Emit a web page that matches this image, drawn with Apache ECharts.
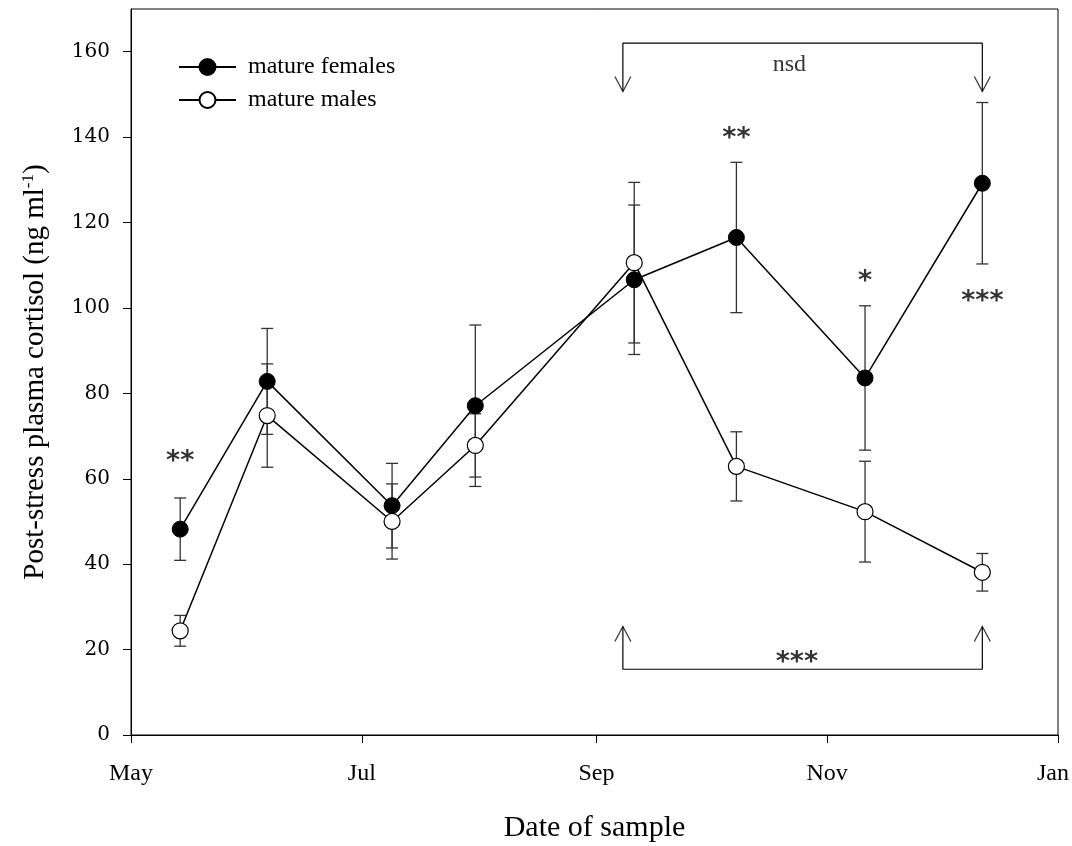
<!DOCTYPE html>
<html lang="en">
<head>
    <meta charset="UTF-8">
    <title>post-stress cortisol</title>
    <script type="text/javascript" src="https://cdn.jsdelivr.net/npm/echarts@6/dist/echarts.min.js"></script>
    <style>
        html, body { margin: 0; padding: 0; background: #fff; }
        #container { width: 1072px; height: 846px; }
    </style>
</head>
<body>
<div id="container"></div>
<script type="text/javascript">
    // sampling dates and means / SE
    var sampleDates = ['2007-05-14', '2007-06-06', '2007-07-09', '2007-07-31', '2007-09-11', '2007-10-08', '2007-11-11', '2007-12-12'];
    var femaleMean = [48.2, 82.8, 53.7, 77.1, 106.6, 116.5, 83.6, 129.2];
    var femaleSE = [7.3, 12.4, 9.9, 18.9, 17.5, 17.6, 16.9, 18.9];
    var maleMean = [24.4, 74.8, 50.0, 67.8, 110.6, 62.9, 52.3, 38.1];
    var maleSE = [3.6, 12.1, 8.8, 7.4, 18.8, 8.1, 11.8, 4.4];

    // axis ticks
    var xTickDates = ['2007-05-01', '2007-07-01', '2007-09-01', '2007-11-01', '2008-01-01'];
    var xTickLabels = ['May', 'Jul', 'Sep', 'Nov', 'Jan'];
    var yTicks = [0, 20, 40, 60, 80, 100, 120, 140, 160];

    // significance marks
    var starTexts = ['**', '**', '*', '***', '***'];
    var starDates = ['2007-05-14', '2007-10-08', '2007-11-11', '2007-12-12', '2007-10-24'];
    var starValues = [65.6, 141.2, 107.7, 103.0, 18.5];

    // brackets: [tip, bar] levels
    var bracketDates = ['2007-09-08', '2007-12-12'];
    var nsdLevels = [150.7, 162];
    var sigLevels = [25.4, 15.4];
    var nsdText = 'nsd';
    var nsdDate = '2007-10-22';
    var nsdValue = 157;

    function t(d) { return new Date(d + 'T00:00:00Z').getTime(); }

    var xTickTimes = xTickDates.map(t);

    function pairs(means) {
        return sampleDates.map(function (d, i) { return [t(d), means[i]]; });
    }
    function errData(means, se) {
        return sampleDates.map(function (d, i) { return [t(d), means[i] - se[i], means[i] + se[i]]; });
    }
    function bracket(levels) {
        var a = t(bracketDates[0]), b = t(bracketDates[1]);
        return [[a, levels[0]], [a, levels[1]], [b, levels[1]], [b, levels[0]]];
    }

    function renderErr(params, api) {
        var x = api.value(0);
        var lo = api.coord([x, api.value(1)]);
        var hi = api.coord([x, api.value(2)]);
        var w = 6;
        var st = { stroke: '#333', lineWidth: 1.3 };
        return {
            type: 'group',
            children: [
                { type: 'line', shape: { x1: lo[0], y1: lo[1], x2: hi[0], y2: hi[1] }, style: st },
                { type: 'line', shape: { x1: lo[0] - w, y1: lo[1], x2: lo[0] + w, y2: lo[1] }, style: st },
                { type: 'line', shape: { x1: hi[0] - w, y1: hi[1], x2: hi[0] + w, y2: hi[1] }, style: st }
            ]
        };
    }

    var serif = 'Liberation Serif';
    var arrowDown = 'path://M0,0 L8,15 L16,0';
    var arrowUp = 'path://M0,15 L8,0 L16,15';

    var dom = document.getElementById('container');
    var myChart = echarts.init(dom, null, { renderer: 'canvas' });

    var option = {
        backgroundColor: '#fff',
        animation: false,
        grid: {
            left: 131, right: 14, top: 9, bottom: 111,
            outerBoundsMode: 'none',
            show: true, borderColor: '#000', borderWidth: 1
        },
        legend: {
            data: ['mature females', 'mature males'],
            orient: 'vertical',
            left: 173,
            top: 50,
            itemWidth: 57,
            itemHeight: 20,
            itemGap: 9,
            textStyle: { fontFamily: serif, fontSize: 24, color: '#000', lineHeight: 24, padding: [0, 0, 0, 7] }
        },
        xAxis: {
            type: 'value',
            min: xTickTimes[0],
            max: xTickTimes[xTickTimes.length - 1],
            name: 'Date of sample',
            nameLocation: 'middle',
            nameGap: 78,
            nameTextStyle: { fontFamily: serif, fontSize: 30, color: '#000' },
            axisLine: { show: true, lineStyle: { color: '#000', width: 1 } },
            axisTick: { show: true, length: 8, customValues: xTickTimes, lineStyle: { color: '#000' } },
            axisLabel: {
                customValues: xTickTimes,
                margin: 27,
                fontFamily: serif, fontSize: 24, color: '#000',
                formatter: function (v) {
                    var i = xTickTimes.indexOf(v);
                    if (i < 0) return '';
                    // last label sits at the right edge, nudge it in
                    return i === xTickTimes.length - 1 ? '{edge|' + xTickLabels[i] + '}' : xTickLabels[i];
                },
                rich: { edge: { fontFamily: serif, fontSize: 24, color: '#000', padding: [0, 10, 0, 0] } }
            },
            splitLine: { show: false }
        },
        yAxis: {
            type: 'value',
            min: 0,
            max: 170,
            interval: 20,
            name: 'Post-stress plasma cortisol (ng ml{sup|-1})',
            nameLocation: 'middle',
            nameGap: 80,
            nameRotate: 90,
            nameTextStyle: {
                fontFamily: serif, fontSize: 29, color: '#000',
                rich: { sup: { fontFamily: serif, fontSize: 17, color: '#000', verticalAlign: 'top', padding: [0, 0, 14, 0] } }
            },
            axisLine: { show: true, lineStyle: { color: '#000', width: 1 } },
            axisTick: { show: true, length: 8, customValues: yTicks, lineStyle: { color: '#000' } },
            axisLabel: { customValues: yTicks, margin: 21, fontFamily: 'DejaVu Serif', fontSize: 20, color: '#000' },
            splitLine: { show: false }
        },
        series: [
            {
                name: 'femaleErr', type: 'custom', renderItem: renderErr,
                data: errData(femaleMean, femaleSE), z: 2, silent: true
            },
            {
                name: 'maleErr', type: 'custom', renderItem: renderErr,
                data: errData(maleMean, maleSE), z: 2, silent: true
            },
            {
                name: 'mature males', type: 'line', data: pairs(maleMean), z: 3,
                symbol: 'circle', symbolSize: 16, showAllSymbol: true,
                lineStyle: { color: '#000', width: 1.5 },
                itemStyle: { color: '#fff', borderColor: '#000', borderWidth: 1.2 }
            },
            {
                name: 'mature females', type: 'line', data: pairs(femaleMean), z: 4,
                symbol: 'circle', symbolSize: 16, showAllSymbol: true,
                lineStyle: { color: '#000', width: 1.5 },
                itemStyle: { color: '#000', borderColor: '#000', borderWidth: 1 }
            },
            {
                name: 'nsdBracket', type: 'line', data: bracket(nsdLevels), symbol: 'none',
                lineStyle: { color: '#000', width: 1.2 }, silent: true
            },
            {
                name: 'sigBracket', type: 'line', data: bracket(sigLevels), symbol: 'none',
                lineStyle: { color: '#000', width: 1.2 }, silent: true
            },
            {
                name: 'nsdArrows', type: 'scatter', symbol: arrowDown, symbolSize: [16, 15], symbolOffset: [0, -7.5],
                data: bracketDates.map(function (d) { return [t(d), nsdLevels[0]]; }),
                itemStyle: { color: 'none', borderColor: '#000', borderWidth: 1.2 }, silent: true
            },
            {
                name: 'sigArrows', type: 'scatter', symbol: arrowUp, symbolSize: [16, 15], symbolOffset: [0, 7.5],
                data: bracketDates.map(function (d) { return [t(d), sigLevels[0]]; }),
                itemStyle: { color: 'none', borderColor: '#000', borderWidth: 1.2 }, silent: true
            },
            {
                name: 'stars', type: 'scatter', symbolSize: 1, silent: true, z: 5,
                data: starDates.map(function (d, i) { return { value: [t(d), starValues[i]], name: starTexts[i] }; }),
                itemStyle: { color: 'transparent' },
                label: {
                    show: true, position: 'inside', offset: [0, 7],
                    formatter: '{b}', fontFamily: 'DejaVu Sans', fontWeight: 'bold', fontSize: 27, color: '#000'
                }
            },
            {
                name: 'nsdLabel', type: 'scatter', symbolSize: 1, silent: true, z: 5,
                data: [{ value: [t(nsdDate), nsdValue], name: nsdText }],
                itemStyle: { color: 'transparent' },
                label: {
                    show: true, position: 'inside',
                    formatter: '{b}', fontFamily: serif, fontSize: 24, color: '#000'
                }
            }
        ]
    };

    if (option && typeof option === 'object') {
        myChart.setOption(option, true);
    }
</script>
</body>
</html>
